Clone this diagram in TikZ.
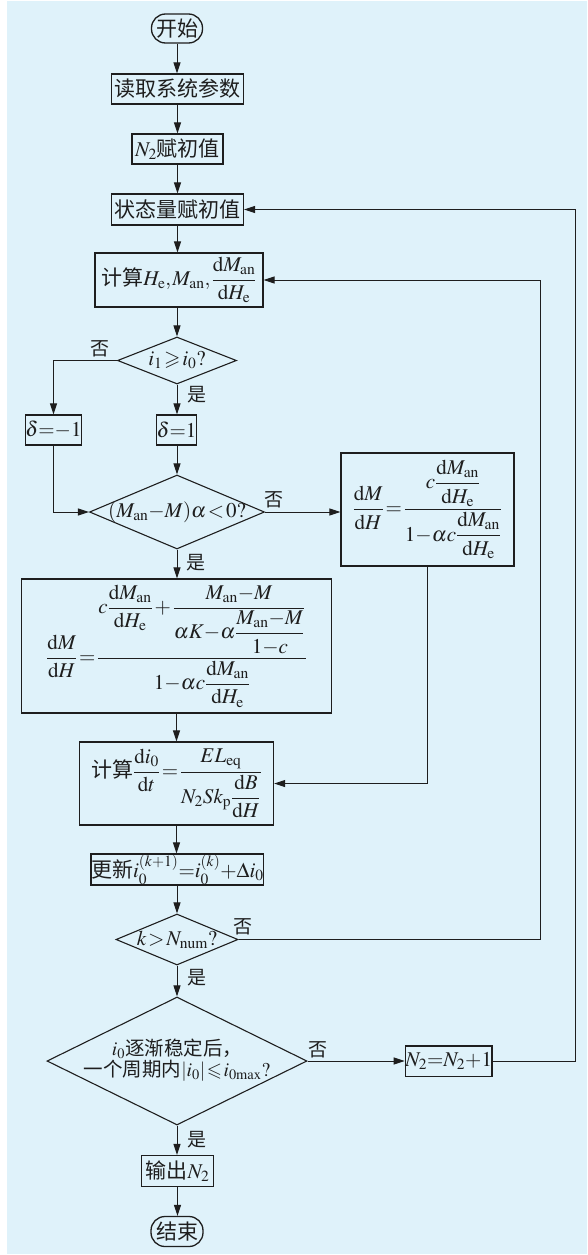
\documentclass[tikz,border=0pt]{standalone}
\usepackage{amsmath,amssymb}
\usepackage{mathptmx}
\usepackage{fontspec}
\setmainfont{Liberation Serif}
\newfontfamily\cjk{Noto Sans CJK SC}
\usetikzlibrary{arrows.meta,shapes.geometric,calc}
\definecolor{bgblue}{RGB}{223,242,250}
\definecolor{ink}{RGB}{30,30,30}
\newcommand{\diffd}{\mathrm{d}}
\newcommand{\fmath}[1]{{\fontsize{21}{25}\selectfont$#1$}}
\medmuskip=0mu
\thickmuskip=1.5mu
\thinmuskip=1mu
\tikzset{
  box/.style={draw=ink, line width=1.3pt, inner sep=0pt, text=ink, align=center,
    font=\cjk\fontsize{21}{24}\selectfont},
  term/.style={box, rounded corners=14pt},
  dia/.style={draw=ink, line width=1.1pt, diamond, inner sep=0pt},
  txt/.style={inner sep=0pt, text=ink, align=center, font=\cjk\fontsize{21}{24}\selectfont},
  lab/.style={inner sep=0pt, text=ink, font=\cjk\fontsize{19}{22}\selectfont},
  arr/.style={draw=ink, line width=1pt, -{Triangle[length=11pt,width=7pt]}},
}
\begin{document}
\begin{tikzpicture}[x=1pt,y=-1pt]
\useasboundingbox (0,0) rectangle (587,1255);
\fill[white] (0,0) rectangle (587,1255);
\fill[bgblue] (6.7,1) rectangle (587,1254);

% main column
\node[term, minimum width=51pt, minimum height=29pt] (start) at (177,28.5) {开始};
\node[box, minimum width=132pt, minimum height=30pt] (read) at (177.5,89) {读取系统参数};
\node[box, minimum width=91pt, minimum height=30pt] (n2) at (177.5,149) {$N_2$赋初值};
\node[box, minimum width=132pt, minimum height=31pt] (state) at (177.5,209.5) {状态量赋初值};
\node[box, minimum width=168pt, minimum height=54pt] (calc) at (179,280)
  {计算\fmath{H_\mathrm{e},M_\mathrm{an},\dfrac{\diffd M_\mathrm{an}}{\diffd H_\mathrm{e}}}};

\node[dia, minimum width=119pt, minimum height=47pt] (d1) at (177,360.5) {};
\node[txt] (d1t) at (d1) {$i_1\geqslant i_0?$};

\node[box, minimum width=47pt, minimum height=30pt] (dm1) at (53.5,430) {$\delta{=}{-}1$};
\node[box, minimum width=40pt, minimum height=30pt] (dp1) at (176.5,430) {$\delta{=}1$};

\node[dia, minimum width=175pt, minimum height=74pt] (d2) at (177,512) {};
\node[txt] (d2t) at (d2) {$(M_\mathrm{an}-M)\alpha<0?$};

\node[box, minimum width=173pt, minimum height=113pt] (rbox) at (427.5,509.5)
  {\fmath{\dfrac{\diffd M}{\diffd H}=\dfrac{c\dfrac{\diffd M_\mathrm{an}}{\diffd H_\mathrm{e}}}{1-\alpha c\dfrac{\diffd M_\mathrm{an}}{\diffd H_\mathrm{e}}}}};

\node[box, minimum width=309.5pt, minimum height=134pt] (bbox) at (176.5,646)
  {\fmath{\dfrac{\diffd M}{\diffd H}=\dfrac{c\dfrac{\diffd M_\mathrm{an}}{\diffd H_\mathrm{e}}\;+\;\dfrac{M_\mathrm{an}-M}{\alpha K-\alpha\dfrac{M_\mathrm{an}-M}{1-c}}}{1-\alpha c\dfrac{\diffd M_\mathrm{an}}{\diffd H_\mathrm{e}}}}};

\node[box, minimum width=194pt, minimum height=83pt] (cbox) at (176.5,783.5)
  {计算\fmath{\dfrac{\diffd i_0}{\diffd t}=\dfrac{EL_\mathrm{eq}}{N_2Sk_\mathrm{p}\dfrac{\diffd B}{\diffd H}}}};

\node[box, minimum width=152.5pt, minimum height=31pt] (upd) at (177.4,869.5)
  {更新$i_0^{(k+1)}{=}i_0^{(k)}{+}\Delta i_0$};

\node[dia, minimum width=122pt, minimum height=51pt] (d3) at (177,939.5) {};
\node[txt] (d3t) at (d3) {$k>N_\mathrm{num}?$};

\node[dia, minimum width=260pt, minimum height=128pt] (d4) at (177,1061) {};
\node[txt, font=\cjk\fontsize{19.5}{21}\selectfont] (d4t) at (177,1060)
  {$i_0$逐渐稳定后，\\一个周期内$|i_0|\leqslant i_{0\mathrm{max}}?$};

\node[box, minimum width=80.7pt, minimum height=30.7pt] (n2p) at (448.7,1061.3) {$N_2{=}N_2{+}1$};

\node[box, minimum width=72pt, minimum height=31pt] (out) at (177.5,1171) {输出$N_2$};
\node[term, minimum width=52pt, minimum height=30pt] (end) at (177,1231.5) {结束};

% labels
\node[lab] (n1) at (100,349) {否};
\node[lab] (y1) at (197,395) {是};
\node[lab] (n2l) at (274,500) {否};
\node[lab] (y2) at (196,563) {是};
\node[lab] (n3) at (243,927) {否};
\node[lab] (y3) at (197,978) {是};
\node[lab] (n4) at (318,1050) {否};
\node[lab] (y4) at (197,1140) {是};

\coordinate (rx1) at (540,0);
\coordinate (rx2) at (575.7,0);

% connectors
\draw[arr] (start.south) -- (start.south |- read.north);
\draw[arr] (read.south) -- (read.south |- n2.north);
\draw[arr] (n2.south) -- (n2.south |- state.north);
\draw[arr] (state.south) -- (state.south |- calc.north);
\draw[arr] (d1.north |- calc.south) -- (d1.north);
\draw[arr] (d1.west) -| (dm1.north);
\draw[arr] (d1.south) -- (d1.south |- dp1.north);
\draw[arr] (dm1.south) |- (d2.west);
\draw[arr] (d2.north |- dp1.south) -- (d2.north);
\draw[arr] (d2.east) -- (d2.east -| rbox.west);
\draw[arr] (d2.south) -- (d2.south |- bbox.north);
\draw[arr] (rbox.south) |- (cbox.east);
\draw[arr] (bbox.south) -- (bbox.south |- cbox.north);
\draw[arr] (cbox.south) -- (cbox.south |- upd.north);
\draw[arr] (d3.north |- upd.south) -- (d3.north);
\draw[arr] (d3.east) -- (d3.east -| rx1) |- (calc.east);
\draw[arr] (d3.south) -- (d4.north);
\draw[arr] (d4.east) -- (d4.east -| n2p.west);
\draw[arr] (n2p.east) -- (n2p.east -| rx2) |- (state.east);
\draw[arr] (d4.south) -- (d4.south |- out.north);
\draw[arr] (out.south) -- (out.south |- end.north);
\end{tikzpicture}
\end{document}
